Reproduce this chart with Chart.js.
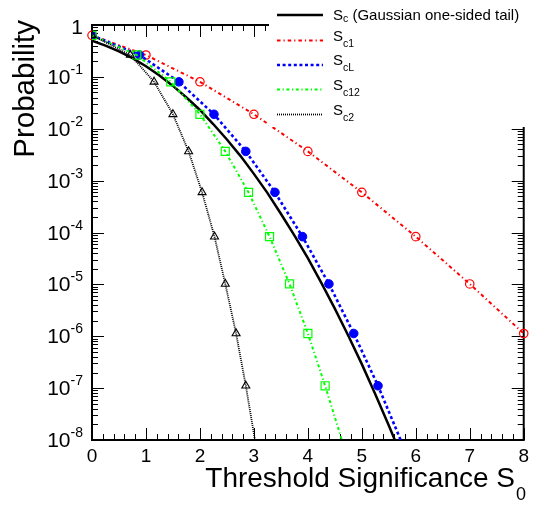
<!DOCTYPE html>
<html><head><meta charset="utf-8">
<script src="https://cdn.jsdelivr.net/npm/chart.js@4/dist/chart.umd.min.js"></script>
<style>html,body{margin:0;padding:0;background:#fff;overflow:hidden}</style>
</head><body>
<canvas id="c" width="534" height="506"></canvas>
<script>
const FONT = "'Liberation Sans', Arial, Helvetica, sans-serif";

// Probability levels shared by the discrete series
const probY = [0.632, 0.264, 0.0803, 0.0190, 0.00366, 5.94e-4, 8.32e-5, 1.02e-5, 1.13e-6, 1.11e-7, 1.0e-8];
// Threshold significance of each marker for each definition
const sc1X  = [0, 1, 2, 3, 4, 5, 6, 7, 8];
const scLX  = [0, 0.88, 1.61, 2.26, 2.85, 3.39, 3.90, 4.39, 4.85, 5.30, 5.72];
const sc12X = [0, 0.83, 1.46, 2.00, 2.47, 2.90, 3.29, 3.66, 4.00, 4.32, 4.63];
const sc2X  = [0, 0.71, 1.15, 1.50, 1.79, 2.04, 2.27, 2.47, 2.67, 2.85, 3.02];
// Gaussian one-sided tail curve
const gaussX = [0, 0.25, 0.5, 0.75, 1, 1.25, 1.5, 1.75, 2, 2.25, 2.5, 2.75, 3, 3.25, 3.5, 3.75, 4, 4.25, 4.5, 4.75, 5, 5.25, 5.5, 5.75];
const gaussY = [0.5, 0.40, 0.31, 0.23, 0.16, 0.106, 0.067, 0.040, 0.023, 0.0122, 0.0062, 0.0030, 0.00135, 5.8e-4, 2.3e-4, 8.8e-5, 3.2e-5, 1.07e-5, 3.4e-6, 1.02e-6, 2.9e-7, 7.6e-8, 1.9e-8, 4.5e-9];

const xTickLabels = ['0','1','2','3','4','5','6','7','8'];
const yTickBase = ['1','10','10','10','10','10','10','10','10'];
const yTickSup  = ['','-1','-2','-3','-4','-5','-6','-7','-8'];

const legendMain = ['S','S','S','S','S'];
const legendSub  = ['c','c1','cL','c12','c2'];
const legendRest = [' (Gaussian one-sided tail)','','','',''];
const xTitle = 'Threshold Significance S';
const xTitleSub = '0';
const yTitle = 'Probability';

const mk = (xs, ys) => xs.map((x, i) => ({x: x, y: ys[i]}));
const hideEdge = r => ctx => (ctx.raw && ctx.raw.y <= 1.05e-8) ? 0 : r;

const series = [
  {label: 'S_c (Gaussian one-sided tail)', data: mk(gaussX, gaussY), borderColor: '#000', borderWidth: 2.5, borderDash: [], pointRadius: 0, order: 5},
  {label: 'S_c1', data: mk(sc1X, probY), borderColor: '#ff0000', borderWidth: 2, borderDash: [3.5, 3, 1.2, 3], pointStyle: 'circle', pointRadius: hideEdge(4.2), pointBorderWidth: 1.2, pointBorderColor: '#ff0000', pointBackgroundColor: 'rgba(0,0,0,0)', order: 4, clip: false},
  {label: 'S_cL', data: mk(scLX, probY), borderColor: '#0000ff', borderWidth: 2.6, borderDash: [3, 2.6], pointStyle: 'circle', pointRadius: hideEdge(4.3), pointBorderWidth: 1, pointBorderColor: '#0000ff', pointBackgroundColor: '#0000ff', order: 3},
  {label: 'S_c12', data: mk(sc12X, probY), borderColor: '#00ff00', borderWidth: 2, borderDash: [3, 2.6, 1.2, 2.6], pointStyle: 'rect', pointRadius: hideEdge(5.7), pointBorderWidth: 1.2, pointBorderColor: '#00ff00', pointBackgroundColor: 'rgba(0,0,0,0)', order: 2},
  {label: 'S_c2', data: mk(sc2X, probY), borderColor: '#000', borderWidth: 1.8, borderDash: [1, 1], pointStyle: 'triangle', pointRadius: hideEdge(4.6), pointBorderWidth: 1.1, pointBorderColor: '#000', pointBackgroundColor: 'rgba(0,0,0,0)', order: 1}
];

function line(ctx, x1, y1, x2, y2) { ctx.beginPath(); ctx.moveTo(x1, y1); ctx.lineTo(x2, y2); ctx.stroke(); }

const framePlugin = {
  id: 'rootFrame',
  beforeDatasetsDraw(chart) {
    const {ctx, chartArea: a, scales: {x, y}} = chart;
    ctx.save();
    ctx.strokeStyle = '#000';
    ctx.lineWidth = 1;
    for (let i = 0; i <= 40; i++) {
      const px = Math.round(x.getPixelForValue(i * 0.2)) + 0.5;
      const L = (i % 5 === 0) ? 12 : 6;
      line(ctx, px, a.bottom, px, a.bottom - L);
      line(ctx, px, a.top, px, a.top + L);
    }
    for (let d = -8; d <= 0; d++) {
      for (let k = 1; k <= 9; k++) {
        if (d === 0 && k > 1) break;
        const v = Number((k * Math.pow(10, d)).toPrecision(3));
        const py = Math.round(y.getPixelForValue(v)) + 0.5;
        const L = (k === 1) ? 12 : 6;
        line(ctx, a.left, py, a.left + L, py);
        line(ctx, a.right, py, a.right - L, py);
      }
    }
    ctx.lineWidth = 2;
    ctx.strokeRect(a.left, a.top, a.right - a.left, a.bottom - a.top);
    ctx.restore();
  },
  afterDraw(chart) {
    const {ctx, chartArea: a, scales: {y}} = chart;
    ctx.save();
    ctx.fillStyle = '#000';
    ctx.textBaseline = 'alphabetic';
    ctx.textAlign = 'left';
    for (let i = 0; i < yTickBase.length; i++) {
      const v = Math.pow(10, -i);
      const py = y.getPixelForValue(v);
      ctx.font = '21px ' + FONT;
      const wb = ctx.measureText(yTickBase[i]).width;
      ctx.font = '14px ' + FONT;
      const ws = yTickSup[i] ? ctx.measureText(yTickSup[i]).width : 0;
      const xr = 83;
      const x0 = xr - ws - wb;
      const base = (i === 0) ? py + 9 : py + 7;
      ctx.font = '21px ' + FONT;
      ctx.fillText(yTickBase[i], x0, base);
      if (yTickSup[i]) { ctx.font = '14px ' + FONT; ctx.fillText(yTickSup[i], x0 + wb, base - 10); }
    }
    ctx.save();
    ctx.translate(34, 20);
    ctx.rotate(-Math.PI / 2);
    ctx.font = '29.5px ' + FONT;
    ctx.textAlign = 'right';
    ctx.fillText(yTitle, 0, 0);
    ctx.restore();
    ctx.font = '28px ' + FONT;
    ctx.textAlign = 'right';
    ctx.fillText(xTitle, 515, 487);
    ctx.textAlign = 'left';
    ctx.font = '18px ' + FONT;
    ctx.fillText(xTitleSub, 516, 500);

    ctx.fillStyle = '#fff';
    ctx.fillRect(269, 0, 265, 127);
    const rows = [15, 40.5, 65, 89.5, 114.5];
    for (let i = 0; i < series.length; i++) {
      const s = series[i];
      const ry = rows[i];
      ctx.save();
      ctx.strokeStyle = s.borderColor;
      ctx.lineWidth = s.borderWidth;
      ctx.setLineDash(s.borderDash || []);
      line(ctx, 277, ry, 323, ry);
      ctx.restore();
      ctx.fillStyle = '#000';
      ctx.textAlign = 'left';
      const sb = (i === 0) ? ry + 5 : ry;
      const subB = (i === 0) ? ry + 7 : ry + 6;
      ctx.font = '15px ' + FONT;
      ctx.fillText(legendMain[i], 333, sb);
      const w1 = ctx.measureText(legendMain[i]).width;
      ctx.font = '10.5px ' + FONT;
      ctx.fillText(legendSub[i], 333 + w1, subB);
      const w2 = ctx.measureText(legendSub[i]).width;
      if (legendRest[i]) { ctx.font = '15px ' + FONT; ctx.fillText(legendRest[i], 333 + w1 + w2, sb); }
    }
    ctx.restore();
  }
};

new Chart(document.getElementById('c'), {
  type: 'line',
  data: {datasets: series.map(s => Object.assign({showLine: true, tension: 0, fill: false, pointHoverRadius: 0}, s))},
  options: {
    responsive: false,
    animation: false,
    events: [],
    layout: {padding: {left: 0, right: 8, top: 25, bottom: 0}},
    plugins: {legend: {display: false}, tooltip: {enabled: false}},
    scales: {
      x: {
        type: 'linear', min: 0, max: 8,
        grid: {display: false, drawTicks: false},
        border: {display: false},
        ticks: {stepSize: 1, padding: 5, color: '#000', font: {family: FONT, size: 19},
          callback: v => Number.isInteger(v) ? xTickLabels[v] : ''},
        afterFit: s => { s.height = 66; }
      },
      y: {
        type: 'logarithmic', min: 1e-8, max: 1,
        grid: {display: false, drawTicks: false},
        border: {display: false},
        ticks: {display: false},
        afterFit: s => { s.width = 92; }
      }
    }
  },
  plugins: [framePlugin]
});
</script>
</body></html>
